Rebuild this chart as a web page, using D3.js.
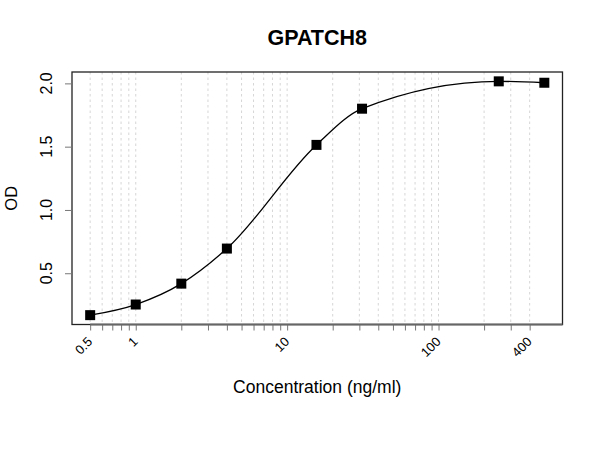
<!DOCTYPE html>
<html>
<head>
<meta charset="utf-8">
<script src="https://cdn.jsdelivr.net/npm/d3@7"></script>
<style>
  body { margin: 0; background: #fff; }
  text { font-family: "Liberation Sans", Arial, sans-serif; }
</style>
</head>
<body>
<div id="chart"></div>
<script>
// measured standard points
const concentrations = [0.5, 1, 2, 4, 15.625, 31.25, 250, 500];
const odValues = [0.169, 0.253, 0.418, 0.695, 1.514, 1.80, 2.016, 2.005];

// axis ticks
const minorTicks = [0.5, 0.6, 0.7, 0.8, 0.9, 1, 2, 3, 4, 5, 6, 7, 8, 9, 10,
  20, 30, 40, 50, 60, 70, 80, 90, 100, 200, 300, 400];
const xLabels = [0.5, 1, 10, 100, 400];
const yTicks = [0.5, 1.0, 1.5, 2.0];

const width = 600;
const height = 450;
const margin = { top: 72, right: 37.5, bottom: 125.5, left: 72 };
const plotW = width - margin.left - margin.right;
const plotH = height - margin.top - margin.bottom;

const points = concentrations.map((c, i) => ({ c: c, od: odValues[i] }));

const svg = d3.select("#chart")
  .append("svg")
  .attr("width", width)
  .attr("height", height);

// R style 4% extension of the data ranges
const xExt = d3.extent(concentrations).map(Math.log10);
const xPad = (xExt[1] - xExt[0]) * 0.04;
const x = d3.scaleLog()
  .domain([Math.pow(10, xExt[0] - xPad), Math.pow(10, xExt[1] + xPad)])
  .range([0, plotW]);

const yExt = d3.extent(odValues);
const yPad = (yExt[1] - yExt[0]) * 0.04;
const y = d3.scaleLinear()
  .domain([yExt[0] - yPad, yExt[1] + yPad])
  .range([plotH, 0]);

const g = svg.append("g")
  .attr("transform", `translate(${margin.left},${margin.top})`);

// vertical dotted grid
g.append("g")
  .selectAll("line")
  .data(minorTicks)
  .join("line")
  .attr("x1", d => x(d))
  .attr("x2", d => x(d))
  .attr("y1", 0)
  .attr("y2", plotH)
  .attr("stroke", "#d6d6d6")
  .attr("stroke-width", 1)
  .attr("stroke-dasharray", "2.5,3");

// fitted curve
const line = d3.line()
  .x(d => x(d.c))
  .y(d => y(d.od))
  .curve(d3.curveMonotoneX);

g.append("path")
  .datum(points)
  .attr("d", line)
  .attr("fill", "none")
  .attr("stroke", "#000")
  .attr("stroke-width", 1.3);

// points
g.selectAll("rect.pt")
  .data(points)
  .join("rect")
  .attr("class", "pt")
  .attr("x", d => x(d.c) - 5)
  .attr("y", d => y(d.od) - 5)
  .attr("width", 10)
  .attr("height", 10)
  .attr("fill", "#000");

// box
g.append("rect")
  .attr("x", 0)
  .attr("y", 0)
  .attr("width", plotW)
  .attr("height", plotH)
  .attr("fill", "none")
  .attr("stroke", "#222")
  .attr("stroke-width", 1.3);

// x axis
const xAxis = g.append("g")
  .attr("transform", `translate(0,${plotH})`)
  .call(d3.axisBottom(x).tickValues(minorTicks).tickSize(6).tickFormat(""));
xAxis.select(".domain").remove();
xAxis.selectAll(".tick line").attr("stroke", "#777");
g.append("line")
  .attr("x1", x(minorTicks[0]))
  .attr("x2", plotW)
  .attr("y1", plotH)
  .attr("y2", plotH)
  .attr("stroke", "#666")
  .attr("stroke-width", 2);

g.append("g")
  .selectAll("text")
  .data(xLabels)
  .join("text")
  .attr("transform", d => `translate(${x(d) + 3},${plotH + 18}) rotate(-45)`)
  .attr("text-anchor", "end")
  .attr("font-size", 13)
  .attr("fill", "#000")
  .text(d => d);

// y axis
const yAxis = g.append("g")
  .call(d3.axisLeft(y).tickValues(yTicks).tickSize(7).tickFormat(""));
yAxis.select(".domain").remove();
yAxis.selectAll(".tick line").attr("stroke", "#777");

g.append("g")
  .selectAll("text")
  .data(yTicks)
  .join("text")
  .attr("transform", d => `translate(-20,${y(d)}) rotate(-90)`)
  .attr("text-anchor", "middle")
  .attr("font-size", 16)
  .attr("fill", "#000")
  .text(d => d3.format(".1f")(d));

// title and labels
svg.append("text")
  .attr("x", margin.left + plotW / 2)
  .attr("y", 45)
  .attr("text-anchor", "middle")
  .attr("font-size", 21.5)
  .attr("font-weight", "bold")
  .text("GPATCH8");

svg.append("text")
  .attr("x", margin.left + plotW / 2)
  .attr("y", 393)
  .attr("text-anchor", "middle")
  .attr("font-size", 17.5)
  .text("Concentration (ng/ml)");

svg.append("text")
  .attr("transform", `translate(16.5,${margin.top + plotH / 2}) rotate(-90)`)
  .attr("text-anchor", "middle")
  .attr("font-size", 16.5)
  .text("OD");
</script>
</body>
</html>
